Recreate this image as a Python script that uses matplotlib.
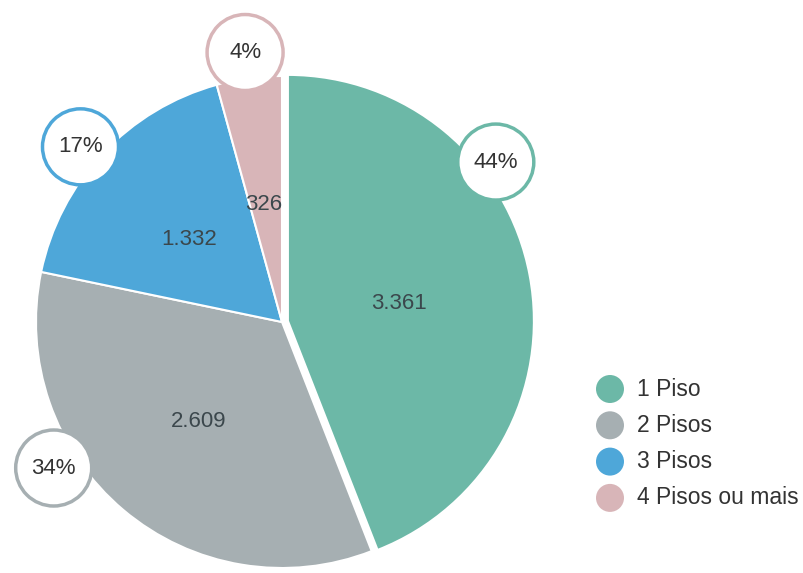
import numpy as np
import matplotlib.pyplot as plt
from matplotlib.patches import Circle

plt.rcParams['font.family'] = ['Liberation Sans', 'DejaVu Sans']

categorias = ['1 Piso', '2 Pisos', '3 Pisos', '4 Pisos ou mais']
valores = [3361, 2609, 1332, 326]
rotulos_valor = ['3.361', '2.609', '1.332', '326']
rotulos_pct = ['44%', '34%', '17%', '4%']
cores = ['#6cb8a7', '#a6afb2', '#4ea7d9', '#d8b5b8']

# layout (pixel units, origin bottom-left)
W, H = 804, 573
cx, cy, R = 282, 573 - 322, 246
ang_pct = [36.8, 212.6, 139.0, 97.8]      # where the % bubbles sit
dist_pct = [267, 271, 267, 272]
ang_val = [9.0, 230.0, 138.6, 98.7]
dist_val = [118, 130, 124, 119]

fig = plt.figure(figsize=(W / 100, H / 100), dpi=100)
ax = fig.add_axes([0, 0, 1, 1])

ax.pie(valores, colors=cores, startangle=90, counterclock=False,
       center=(cx, cy), radius=R, explode=[6, 0, 0, 0],
       wedgeprops=dict(edgecolor='white', linewidth=1.5))
ax.set_xlim(0, W)
ax.set_ylim(0, H)
ax.set_aspect('equal')
ax.axis('off')

for i in range(len(valores)):
    a = np.radians(ang_val[i])
    ax.text(cx + dist_val[i] * np.cos(a), cy + dist_val[i] * np.sin(a),
            rotulos_valor[i], ha='center', va='center', fontsize=16,
            color='#3b474c', zorder=5)
    a = np.radians(ang_pct[i])
    px, py = cx + dist_pct[i] * np.cos(a), cy + dist_pct[i] * np.sin(a)
    ax.add_patch(Circle((px, py), 38, facecolor='white', edgecolor=cores[i],
                        linewidth=2.5, zorder=6))
    ax.text(px, py, rotulos_pct[i], ha='center', va='center', fontsize=16,
            color='#333333', zorder=7)

# legend
for i, nome in enumerate(categorias):
    ly = H - (389 + 36.3 * i)
    ax.add_patch(Circle((610, ly), 14, facecolor=cores[i], edgecolor='none'))
    ax.text(637, ly, nome, ha='left', va='center', fontsize=16.5, color='#333333')

fig.savefig('out.png', dpi=100, facecolor='white')
